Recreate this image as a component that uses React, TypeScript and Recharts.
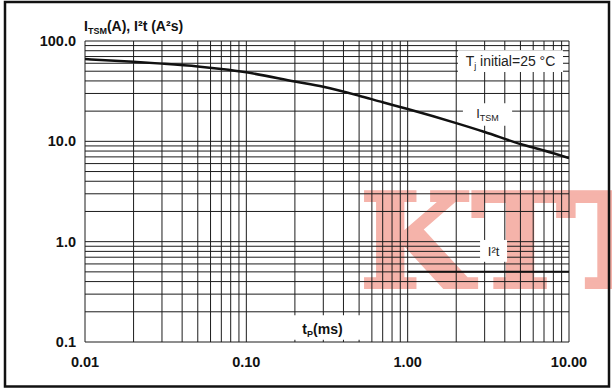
import { CartesianGrid, Line, LineChart, ReferenceArea, XAxis, YAxis } from "recharts"

// I_TSM curve (A) vs pulse width tp (ms)
const tpItsm = [0.01, 0.02, 0.03, 0.05, 0.07, 0.1, 0.2, 0.3, 0.5, 0.7, 1, 2, 3, 5, 7, 10]
const itsm = [66, 62, 59.5, 55.8, 52.6, 48.7, 39.5, 35, 28.5, 24.5, 21, 15.2, 12.4, 9.4, 8.1, 6.8]

// I²t (A²s)
const tpI2t = [1, 10]
const i2t = [0.5, 0.5]

const xTicks = [
  0.01, 0.02, 0.03, 0.04, 0.05, 0.06, 0.07, 0.08, 0.09,
  0.1, 0.2, 0.3, 0.4, 0.5, 0.6, 0.7, 0.8, 0.9,
  1, 2, 3, 4, 5, 6, 7, 8, 9, 10,
]
const yTicks = [
  0.1, 0.2, 0.3, 0.4, 0.5, 0.6, 0.7, 0.8, 0.9,
  1, 2, 3, 4, 5, 6, 7, 8, 9,
  10, 20, 30, 40, 50, 60, 70, 80, 90, 100,
]
const xDecades = [0.01, 0.1, 1, 10]
const xDecadeLabels = ["0.01", "0.10", "1.00", "10.00"]
const yDecades = [0.1, 1, 10, 100]
const yDecadeLabels = ["0.1", "1.0", "10.0", "100.0"]

const itsmData = tpItsm.map((t, i) => ({ t, v: itsm[i] }))
const i2tData = tpI2t.map((t, i) => ({ t, v: i2t[i] }))

const FONT = "'Liberation Sans', Arial, Helvetica, sans-serif"
const GRID = "#1c1c1c"
const PINK = "#f5b3aa"

function XTick(props: any) {
  const i = xDecades.indexOf(props.payload.value)
  if (i < 0) return <g />
  return (
    <text x={props.x} y={props.y + 25} textAnchor="middle" fontFamily={FONT} fontWeight="bold" fontSize={14.5} fill="#111">
      {xDecadeLabels[i]}
    </text>
  )
}

function YTick(props: any) {
  const i = yDecades.indexOf(props.payload.value)
  if (i < 0) return <g />
  return (
    <text x={76} y={props.y + 5} textAnchor="end" fontFamily={FONT} fontWeight="bold" fontSize={14.5} fill="#111">
      {yDecadeLabels[i]}
    </text>
  )
}

function boxLabel(kind: string) {
  return (p: any) => {
    const vb = p.viewBox || {}
    const cx = vb.x + vb.width / 2
    const cy = vb.y + vb.height / 2
    if (kind === "tj")
      return (
        <text x={cx} y={cy + 5} textAnchor="middle" fontFamily={FONT} fontSize={14} fill="#222">
          T<tspan fontSize={9} dy={3}>j</tspan>
          <tspan dy={-3}> initial=25 °C</tspan>
        </text>
      )
    if (kind === "itsm")
      return (
        <text x={cx} y={cy + 4} textAnchor="middle" fontFamily={FONT} fontSize={13} fill="#222">
          I<tspan fontSize={9} dy={3}>TSM</tspan>
        </text>
      )
    if (kind === "i2t")
      return (
        <text x={cx} y={cy + 5} textAnchor="middle" fontFamily={FONT} fontSize={13} fill="#222">
          I²t
        </text>
      )
    return (
      <text x={cx - 5} y={cy + 6} textAnchor="middle" fontFamily={FONT} fontWeight="bold" fontSize={14} fill="#111">
        t<tspan fontSize={9} dy={3}>P</tspan>
        <tspan dy={-3}>(ms)</tspan>
      </text>
    )
  }
}

export default function App() {
  return (
    <div style={{ position: "fixed", left: 0, top: 0, width: 612, height: 390, background: "#fff" }}>
      {/* watermark, under the grid */}
      <svg width={612} height={390} style={{ position: "absolute", left: 0, top: 0 }}>
        <text
          x={360}
          y={287}
          fontFamily="'DejaVu Serif', serif"
          fontWeight="bold"
          fontSize={129}
          fill={PINK}
          stroke={PINK}
          strokeWidth={4}
          strokeLinejoin="miter"
        >
          KTT
        </text>
      </svg>

      <div style={{ position: "absolute", left: 0, top: 0 }}>
        <LineChart width={612} height={390} margin={{ top: 41, right: 43, bottom: 0, left: 0 }}>
          <CartesianGrid stroke={GRID} strokeWidth={1} />
          <XAxis
            dataKey="t"
            type="number"
            scale="log"
            domain={[0.01, 10]}
            ticks={xTicks}
            interval={0}
            allowDataOverflow
            axisLine={false}
            tickLine={false}
            tickSize={0}
            tickMargin={0}
            height={48}
            tick={XTick}
          />
          <YAxis
            type="number"
            scale="log"
            domain={[0.1, 100]}
            ticks={yTicks}
            interval={0}
            allowDataOverflow
            axisLine={false}
            tickLine={false}
            tickSize={0}
            tickMargin={0}
            width={85}
            tick={YTick}
          />
          <ReferenceArea x1={2.05} x2={9.18} y1={49} y2={81} fill="#fff" fillOpacity={1} stroke="none" label={boxLabel("tj")} />
          <ReferenceArea x1={2.2} x2={4.44} y1={14.3} y2={24} fill="#fff" fillOpacity={1} stroke="none" label={boxLabel("itsm")} />
          <ReferenceArea x1={2.81} x2={4.13} y1={0.63} y2={1.04} fill="#fff" fillOpacity={1} stroke="none" label={boxLabel("i2t")} />
          <ReferenceArea x1={0.195} x2={0.52} y1={0.105} y2={0.185} fill="#fff" fillOpacity={1} stroke="none" label={boxLabel("tp")} />
          <Line data={itsmData} dataKey="v" type="monotone" stroke="#111" strokeWidth={2.5} dot={false} isAnimationActive={false} />
          <Line data={i2tData} dataKey="v" type="linear" stroke="#111" strokeWidth={2} dot={false} isAnimationActive={false} />
        </LineChart>
      </div>

      {/* title and frame */}
      <svg width={612} height={390} style={{ position: "absolute", left: 0, top: 0, pointerEvents: "none" }}>
        <text x={84} y={31} fontFamily={FONT} fontWeight="bold" fontSize={14} fill="#111">
          I<tspan fontSize={9} dy={3}>TSM</tspan>
          <tspan dy={-3}>(A), I²t (A²s)</tspan>
        </text>
        <rect x={5} y={2} width={604} height={384.5} fill="none" stroke="#111" strokeWidth={2.5} />
      </svg>
    </div>
  )
}
